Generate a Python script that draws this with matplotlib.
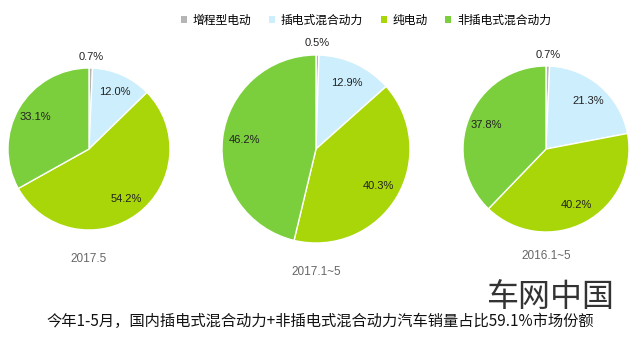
import matplotlib

matplotlib.use("Agg")
import matplotlib.pyplot as plt
import numpy as np
from matplotlib.patches import Patch

plt.rcParams["font.family"] = ["Liberation Sans", "Noto Sans CJK SC", "DejaVu Sans"]

categories = ["增程型电动", "插电式混合动力", "纯电动", "非插电式混合动力"]
colors = ["#b5b5b5", "#cdeefc", "#a8d608", "#7bcf3c"]

periods = ["2017.5", "2017.1~5", "2016.1~5"]
share_2017_5 = [0.7, 12.0, 54.2, 33.1]
share_2017_1_5 = [0.5, 12.9, 40.3, 46.2]
share_2016_1_5 = [0.7, 21.3, 40.2, 37.8]

caption = "今年1-5月，国内插电式混合动力+非插电式混合动力汽车销量占比59.1%市场份额"

W, H = 640, 337
fig = plt.figure(figsize=(W / 100, H / 100), dpi=100)
fig.patch.set_facecolor("white")

# pie centres / radii in pixels (from top-left), plus period label offset
layout = [
    (89, 149, 81, 1.36),
    (316, 149, 94, 1.31),
    (546, 149, 83, 1.29),
]


def draw_pie(values, period, cx, cy, r, label_off):
    ax = fig.add_axes([(cx - r) / W, (H - cy - r) / H, 2 * r / W, 2 * r / H])
    wedges, _ = ax.pie(
        values,
        colors=colors,
        startangle=90,
        counterclock=False,
        radius=1,
        wedgeprops={"edgecolor": "white", "linewidth": 1.0},
    )
    for w, v in zip(wedges, values):
        mid = np.deg2rad((w.theta1 + w.theta2) / 2)
        d = 1.13 if v < 3 else 0.77
        ax.text(d * np.cos(mid), d * np.sin(mid), f"{v:.1f}%",
                ha="center", va="center", fontsize=8, color="#222222")
    ax.text(0, -label_off, period, ha="center", va="center",
            fontsize=8.5, color="#666666")
    ax.set_xlim(-1, 1)
    ax.set_ylim(-1, 1)
    ax.axis("off")


for values, period, (cx, cy, r, off) in zip(
    [share_2017_5, share_2017_1_5, share_2016_1_5], periods, layout
):
    draw_pie(values, period, cx, cy, r, off)

handles = [Patch(facecolor=c, edgecolor="none") for c in colors]
fig.legend(
    handles, categories, loc="center", bbox_to_anchor=(366 / W, 1 - 20 / H),
    ncol=4, frameon=False, handlelength=0.5, handleheight=0.5,
    handletextpad=0.5, columnspacing=1.5,
    prop={"family": ["Noto Sans CJK SC", "DejaVu Sans"], "size": 8.5},
)

fig.text(46 / W, 1 - 321 / H, caption, ha="left", va="center", fontsize=11,
         color="#111111", family=["Noto Sans CJK SC", "DejaVu Sans"])
fig.text(550 / W, 1 - 297 / H, "车网中国", ha="center", va="center",
         fontsize=23, color="#333333", family=["Noto Sans CJK SC", "DejaVu Sans"])

fig.savefig("out.png", dpi=100, facecolor="white")
